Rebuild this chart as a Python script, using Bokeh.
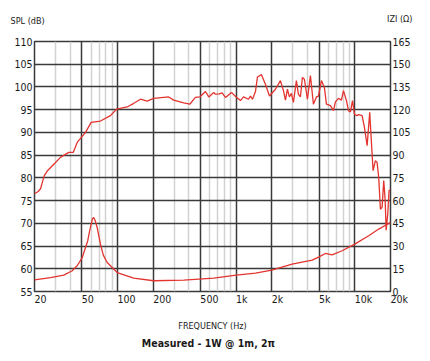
from bokeh.plotting import figure
from bokeh.models import Range1d, LinearAxis, FixedTicker, Label
from bokeh.embed import file_html
from bokeh.resources import INLINE

# SPL response (Hz, dB)
spl_freq = [20, 21.5, 22.5, 23.5, 24.2, 25.6, 29.1, 33.1, 38.9, 42.4, 45.8, 53.8, 60.1, 71.9,
            87.3, 98.2, 120.8, 137.3, 156.3, 177.9, 202, 270, 298, 362, 407, 454, 494, 552,
            588, 648, 670, 720, 762, 813, 914, 1000, 1089, 1154, 1271, 1321, 1374, 1456, 1514,
            1635, 1766, 1910, 2145, 2363, 2506, 2605, 2706, 2813, 2925, 3041, 3222, 3349,
            3482, 3620, 3764, 3990, 4229, 4482, 4751, 4940, 5236, 5550, 5770, 6237, 6610,
            6873, 7285, 7721, 8028, 8509, 8847, 9199, 9564, 9944, 10420, 10790, 11530, 12060,
            12710, 13360, 14000, 14270, 14920, 15420, 15910, 16450, 16990, 17540, 18020,
            18380, 18950, 19460, 20000]
spl_db = [76.5, 77.0, 77.6, 79.4, 80.5, 81.5, 83.0, 84.5, 85.6, 85.6, 87.8, 90.0, 92.2, 92.5,
          93.7, 95.1, 95.6, 96.4, 97.3, 96.9, 97.5, 97.8, 97.1, 96.5, 96.2, 97.7, 97.8, 99.0,
          97.8, 98.8, 98.4, 98.5, 98.7, 97.7, 98.8, 97.8, 97.0, 97.8, 97.3, 98.0, 97.3, 99.0,
          102.2, 102.7, 100.6, 98.0, 99.5, 101.4, 99.2, 97.1, 99.5, 97.8, 98.6, 96.6, 101.4,
          98.4, 97.8, 102.1, 101.7, 97.3, 102.5, 96.2, 97.8, 98.0, 101.4, 99.8, 96.2, 95.9,
          94.8, 96.7, 97.5, 97.1, 99.2, 97.0, 94.8, 94.5, 97.0, 94.0, 93.7, 93.9, 93.7,
          91.1, 87.1, 94.4, 85.2, 81.6, 83.8, 83.4, 80.1, 73.1, 73.5, 79.4, 75.3, 68.5,
          72.0, 77.2, 77.4]

# Impedance (Hz, ohm)
imp_freq = [20, 27.3, 35.3, 41.6, 45.8, 50.5, 56.2, 58.3, 60.1, 61.5, 63.2, 65.0, 67.5, 71.9,
            76, 82, 99.5, 137, 202, 362, 648, 1000, 1456, 2000, 2966, 4376, 5000, 5650, 6440,
            7820, 10000, 13100, 15910, 19320, 20000]
imp_ohm = [7.7, 9.2, 10.8, 13.7, 17.0, 22.4, 33.5, 40.0, 44.5, 48.0, 48.8, 46.7, 42.2, 31.3,
           24.0, 19.1, 12.5, 8.8, 7.1, 7.5, 8.8, 10.8, 12.1, 14.1, 18.1, 20.7, 22.9, 25.1, 24.2,
           26.9, 31.3, 36.8, 41.2, 44.9, 45.5]

x_ticks = [20, 50, 100, 200, 500, 1000, 2000, 5000, 10000, 20000]
x_tick_labels = ["20", "50", "100", "200", "500", "1k", "2k", "5k", "10k", "20k"]
x_minor = [30, 40, 60, 70, 80, 90, 300, 400, 600, 700, 800, 900,
           3000, 4000, 6000, 7000, 8000, 9000]
spl_ticks = [55, 60, 65, 70, 75, 80, 85, 90, 95, 100, 105, 110]
imp_ticks = [0, 15, 30, 45, 60, 75, 90, 105, 120, 135, 150, 165]

FONT = "DejaVu Sans Condensed"
RED = "#e3342f"
DARK = "#3a3a3a"
TXT = "#1a1a1a"

p = figure(width=430, height=361, x_axis_type="log",
           x_range=Range1d(20, 20000), y_range=Range1d(55, 110),
           output_backend="svg", toolbar_location=None,
           min_border_left=34, min_border_right=40, min_border_top=41, min_border_bottom=70)
p.background_fill_color = "white"
p.border_fill_color = "white"
p.outline_line_color = DARK
p.outline_line_width = 1.5

p.xgrid.ticker = FixedTicker(ticks=x_ticks, minor_ticks=x_minor)
p.xgrid.grid_line_color = DARK
p.xgrid.grid_line_width = 1.5
p.xgrid.minor_grid_line_color = "#d2d2d2"
p.xgrid.minor_grid_line_width = 1.5

p.ygrid.ticker = FixedTicker(ticks=spl_ticks)
p.ygrid.grid_line_color = DARK
p.ygrid.grid_line_width = 1.5

def style_axis(ax):
    ax.axis_line_color = None
    ax.major_tick_out = 0
    ax.major_tick_in = 0
    ax.minor_tick_out = 0
    ax.minor_tick_in = 0
    ax.major_label_standoff = 2
    ax.major_label_text_font = FONT
    ax.major_label_text_font_size = "10.5px"
    ax.major_label_text_color = TXT

p.yaxis.ticker = FixedTicker(ticks=spl_ticks)
style_axis(p.yaxis[0])

xax = p.xaxis[0]
style_axis(xax)
xax.ticker = FixedTicker(ticks=x_ticks)
xax.major_label_overrides = dict(zip(x_ticks, x_tick_labels))
xax.major_label_standoff = 7
xax.major_label_orientation = -0.0001
xax.axis_label = "FREQUENCY (Hz)"
xax.axis_label_text_font = FONT
xax.axis_label_text_font_size = "9px"
xax.axis_label_text_font_style = "normal"
xax.axis_label_text_color = TXT
xax.axis_label_standoff = 7

p.extra_y_ranges = {"z": Range1d(0, 165)}
zax = LinearAxis(y_range_name="z", ticker=FixedTicker(ticks=imp_ticks))
style_axis(zax)
p.add_layout(zax, "right")

p.line(imp_freq, imp_ohm, y_range_name="z", line_color=RED, line_width=1.3)
p.line(spl_freq, spl_db, line_color=RED, line_width=1.3)

p.add_layout(Label(x=12.56, y=114.55, text="SPL (dB)", text_align="left",
                   text_baseline="middle", text_font=FONT, text_font_size="9px",
                   text_color=TXT), "above")
p.add_layout(Label(x=18712, y=114.9, text="IZI (\u03a9)", text_align="left",
                   text_baseline="middle", text_font=FONT, text_font_size="9px",
                   text_color=TXT), "above")
p.add_layout(Label(x=585, y=43.7, text="Measured - 1W @ 1m, 2\u03c0", text_align="center",
                   text_baseline="middle", text_font=FONT, text_font_size="10.5px",
                   text_font_style="bold", text_color=TXT), "below")

open("out.html", "w").write(file_html(p, INLINE))
